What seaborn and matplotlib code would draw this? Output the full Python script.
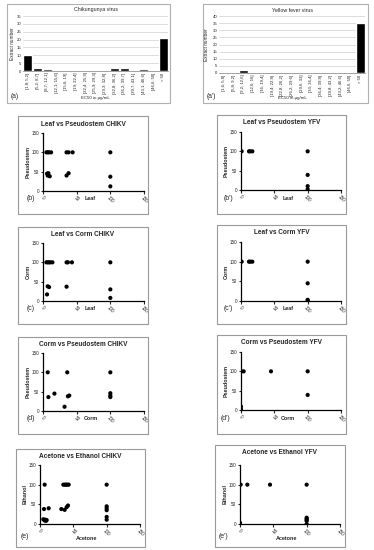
import matplotlib
matplotlib.use("Agg")
import matplotlib.pyplot as plt
import seaborn as sns
import pandas as pd
from matplotlib.patches import Rectangle

W, H = 374, 550

# ---- bar chart data (EC50 distribution) ----
chikv_bins = ["[1,8; 5,2]", "[5,2; 8,7]", "[8,7; 12,1]", "[12,1; 15,6]", "[15,6; 19]",
              "[19; 22,4]", "[22,4; 25,9]", "[25,9; 29,3]", "[29,3; 32,8]", "[32,8; 36,2]",
              "[36,2; 39,7]", "[39,7; 43,1]", "[43,1; 46,6]", "[46,6; 50]", "> 50"]
chikv_counts = [10, 2, 1, 0, 0, 0, 0, 0, 0, 2, 2, 0, 1, 0, 21]

yfv_bins = ["[1,6; 5,8]", "[5,8; 9,2]", "[9,2; 12,6]", "[12,6; 16]", "[16; 19,4]",
            "[19,4; 22,8]", "[22,8; 26,2]", "[26,2; 29,6]", "[29,6; 33]", "[33; 36,4]",
            "[36,4; 39,8]", "[39,8; 43,2]", "[43,2; 46,6]", "[46,6; 50]", "> 50"]
yfv_counts = [1, 0, 2, 0, 1, 0, 0, 0, 0, 0, 0, 0, 0, 0, 35]

# ---- scatter data (EC50 pairs, ug/mL) ----
leaf_pseudo_chikv_x = [5, 7, 9, 12, 35, 38, 44, 100, 6, 7, 8, 10, 35, 38, 100, 100]
leaf_pseudo_chikv_y = [100, 100, 100, 100, 100, 100, 100, 100, 45, 40, 46, 38, 40, 46, 37, 12]
leaf_pseudo_yfv_x = [1, 12, 14, 17, 100, 100, 100, 100]
leaf_pseudo_yfv_y = [100, 100, 100, 100, 100, 39, 10, 2]

leaf_corm_chikv_x = [5, 7, 9, 11, 14, 35, 37, 43, 100, 7, 9, 35, 100, 6, 100]
leaf_corm_chikv_y = [100, 100, 100, 100, 100, 100, 100, 100, 100, 38, 36, 37, 30, 17, 8]
leaf_corm_yfv_x = [1, 12, 14, 17, 100, 100, 100, 100]
leaf_corm_yfv_y = [100, 100, 100, 100, 100, 45, 3, 1]

corm_pseudo_chikv_x = [7, 36, 100, 8, 17, 32, 37, 39, 100, 100, 100]
corm_pseudo_chikv_y = [100, 100, 100, 36, 45, 11, 38, 40, 46, 40, 36]
corm_pseudo_yfv_x = [1, 4, 45, 100, 100, 0, 0]
corm_pseudo_yfv_y = [100, 100, 100, 100, 39, 9, 2]

acet_eth_chikv_x = [7, 35, 37, 39, 41, 43, 100, 6, 13, 32, 37, 40, 42,
                    5, 7, 8, 9, 10, 100, 100, 100, 100, 100]
acet_eth_chikv_y = [100, 100, 100, 100, 100, 100, 100, 38, 40, 38, 36, 43, 47,
                    12, 9, 11, 8, 10, 45, 40, 35, 18, 11]
acet_eth_yfv_x = [1, 11, 45, 100, 0, 100, 100, 100, 100, 100]
acet_eth_yfv_y = [100, 100, 100, 100, 3, 16, 13, 10, 8, 0]

sns.set_theme(style="ticks")
plt.rcParams["font.family"] = ["Liberation Sans", "DejaVu Sans"]

fig = plt.figure(figsize=(W / 100, H / 100), dpi=100)


def px_axes(x0, y0, x1, y1):
    return fig.add_axes([x0 / W, 1 - y1 / H, (x1 - x0) / W, (y1 - y0) / H])


def px_text(x, y, s, **kw):
    fig.text(x / W, 1 - y / H, s, **kw)


def px_box(x0, y0, x1, y1, color="#9a9a9a"):
    fig.patches.append(Rectangle((x0 / W, 1 - y1 / H), (x1 - x0) / W, (y1 - y0) / H,
                                 transform=fig.transFigure, fill=False,
                                 edgecolor=color, linewidth=0.8))


def bar_panel(box, area, bins, counts, ymax, title, letter, letter_x, ylab_x):
    px_box(*box, color="#b0b0b0")
    ax = px_axes(*area)
    df = pd.DataFrame({"bin": bins, "count": counts})
    sns.barplot(data=df, x="bin", y="count", color="black", width=0.9,
                saturation=1, ax=ax)
    ax.set_xlim(-0.5, len(bins) - 0.5)
    ax.set_ylim(0, ymax)
    ax.set_yticks(range(0, ymax + 1, 5))
    ax.yaxis.grid(True, color="#d0d0d0", linewidth=0.5)
    ax.set_axisbelow(True)
    for s in ["top", "right", "left"]:
        ax.spines[s].set_visible(False)
    ax.spines["bottom"].set_color("#909090")
    ax.spines["bottom"].set_linewidth(0.6)
    ax.tick_params(axis="both", length=0, labelsize=3.1, pad=1, labelcolor="#222222")
    ax.tick_params(axis="x", rotation=90)
    ax.set_xlabel("")
    ax.set_ylabel("")
    cx = (area[0] + area[2]) / 2
    px_text(cx, 10, title, ha="center", va="center", fontsize=3.8)
    px_text(ylab_x, (area[1] + area[3]) / 2, "Extract number", rotation=90,
            ha="center", va="center", fontsize=3.4)
    px_text(cx, 98, "EC50 in µg/mL", ha="center", va="center", fontsize=3.2)
    px_text(letter_x, 97, letter, ha="left", va="center", fontsize=4.8)


bar_panel((7, 4, 170, 103), (23, 16, 168, 71), chikv_bins, chikv_counts, 35,
          "Chikungunya virus", "(a)", 11, 12)
bar_panel((203, 4, 368, 103), (219, 16, 365, 73), yfv_bins, yfv_counts, 40,
          "Yellow fever virus", "(a')", 207, 207)


def scatter_panel(box, area, xs, ys, title, xlab, ylab, letter, letter_xy, xlab_y):
    px_box(*box)
    ax = px_axes(*area)
    sns.scatterplot(x=xs, y=ys, color="black", s=9, edgecolor="none", ax=ax)
    ax.set_xlim(0, 150)
    ax.set_ylim(0, 150)
    ax.set_xticks([0, 50, 100, 150])
    ax.set_yticks([0, 50, 100, 150])
    ax.tick_params(axis="both", length=1.8, width=0.8, labelsize=3.3, pad=1)
    ax.tick_params(axis="x", rotation=-45)
    for lab in ax.get_xticklabels():
        lab.set_ha("center")
        lab.set_va("top")
    sns.despine(ax=ax)
    for s in ["left", "bottom"]:
        ax.spines[s].set_linewidth(0.9)
        ax.spines[s].set_color("black")
    bx = (box[0] + box[2]) / 2
    px_text(bx, box[1] + 8, title, ha="center", va="center", fontsize=4.7,
            fontweight="bold")
    px_text((area[0] + area[2]) / 2 - 3, xlab_y, xlab, ha="center", va="center",
            fontsize=3.9, fontweight="bold")
    px_text(area[0] - 15, (area[1] + area[3]) / 2, ylab, rotation=90,
            ha="center", va="center", fontsize=3.9, fontweight="bold")
    px_text(letter_xy[0], letter_xy[1], letter, ha="left", va="center", fontsize=5)


left = [
    ((18, 116, 148, 214), (43, 133, 144, 191), leaf_pseudo_chikv_x, leaf_pseudo_chikv_y,
     "Leaf vs Pseudostem CHIKV", "Leaf", "Pseudostem", "(b)", (27, 198), 199),
    ((18, 227, 148, 324), (43, 243, 144, 301), leaf_corm_chikv_x, leaf_corm_chikv_y,
     "Leaf vs Corm CHIKV", "Leaf", "Corm", "(c)", (27, 308), 309),
    ((18, 337, 148, 434), (43, 353, 144, 411), corm_pseudo_chikv_x, corm_pseudo_chikv_y,
     "Corm vs Pseudostem CHIKV", "Corm", "Pseudostem", "(d)", (27, 418), 419),
    ((16, 449, 145, 547), (40, 465, 140, 524), acet_eth_chikv_x, acet_eth_chikv_y,
     "Acetone vs Ethanol CHIKV", "Acetone", "Ethanol", "(e)", (21, 537), 538),
]
right = [
    ((217, 115, 346, 214), (241, 132, 341, 190), leaf_pseudo_yfv_x, leaf_pseudo_yfv_y,
     "Leaf vs Pseudostem YFV", "Leaf", "Pseudostem", "(b')", (224, 198), 199),
    ((217, 225, 346, 324), (241, 242, 341, 301), leaf_corm_yfv_x, leaf_corm_yfv_y,
     "Leaf vs Corm YFV", "Leaf", "Corm", "(c')", (224, 308), 309),
    ((217, 335, 346, 434), (241, 352, 341, 410), corm_pseudo_yfv_x, corm_pseudo_yfv_y,
     "Corm vs Pseudostem YFV", "Corm", "Pseudostem", "(d')", (221, 418), 419),
    ((215, 445, 345, 547), (240, 465, 340, 524), acet_eth_yfv_x, acet_eth_yfv_y,
     "Acetone vs Ethanol YFV", "Acetone", "Ethanol", "(e')", (219, 537), 538),
]
for args in left + right:
    scatter_panel(*args)

fig.savefig("out.png", dpi=100)
